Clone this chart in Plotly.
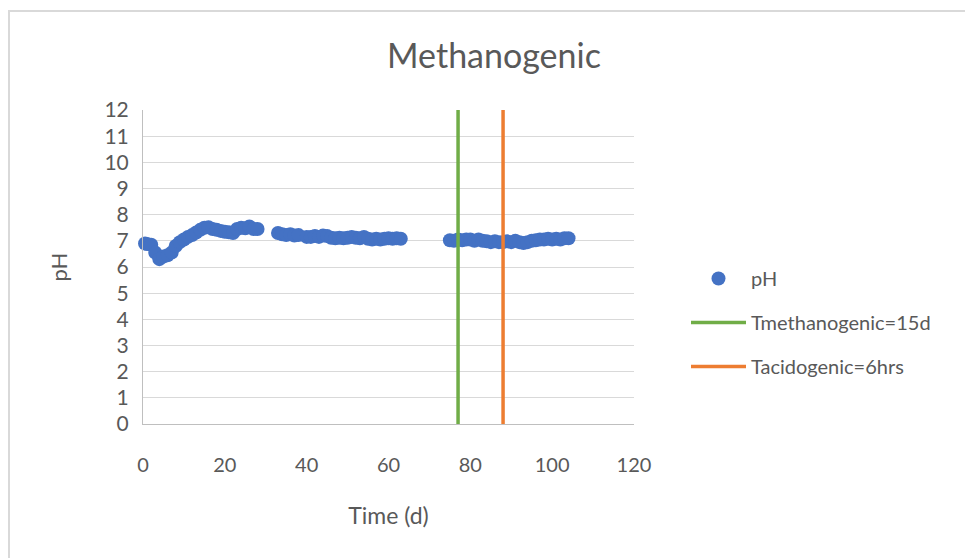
import plotly.graph_objects as go

# Time (d)
time_d = [0.5, 1, 2, 3, 4, 5, 6, 7, 8, 9, 10, 11, 12, 13, 14, 15, 16, 17, 18, 19, 20,
          21, 22, 23, 24, 25, 26, 27, 28,
          33, 34, 35, 36, 37, 38, 40, 41, 42, 43, 44, 45, 46, 47, 48, 49, 50, 51, 52,
          53, 54, 55, 56, 57, 58, 59, 60, 61, 62, 63,
          75, 76, 77, 78, 79, 80, 81, 82, 83, 84, 85, 86, 87, 88, 89, 90, 91, 92, 93,
          94, 95, 96, 97, 98, 99, 100, 101, 102, 103, 104]
ph = [6.9, 6.88, 6.85, 6.55, 6.3, 6.4, 6.45, 6.55, 6.8, 6.95, 7.05, 7.15, 7.22, 7.32, 7.42,
      7.5, 7.52, 7.45, 7.42, 7.38, 7.35, 7.33, 7.3, 7.45, 7.5, 7.48, 7.55, 7.45, 7.45,
      7.3, 7.25, 7.22, 7.25, 7.2, 7.22, 7.15, 7.15, 7.18, 7.15, 7.2, 7.18, 7.12, 7.1, 7.12,
      7.1, 7.12, 7.15, 7.12, 7.1, 7.15, 7.08, 7.05, 7.08, 7.05, 7.08, 7.1, 7.08, 7.1, 7.08,
      7.02, 7.0, 7.05, 7.02, 7.05, 7.05, 7.0, 7.05, 7.0, 6.98, 6.95, 6.98, 6.95, 6.95, 6.98,
      6.95, 7.0, 6.95, 6.92, 6.95, 7.0, 7.02, 7.05, 7.05, 7.08, 7.05, 7.08, 7.05, 7.1, 7.1]

t_methanogenic_x = [77, 77]
t_methanogenic_y = [0, 12]
t_acidogenic_x = [88, 88]
t_acidogenic_y = [0, 12]

x_ticks = [0, 20, 40, 60, 80, 100, 120]
y_ticks = list(range(0, 13))

FONT = "Lato"
TXT = "#595959"

fig = go.Figure()
fig.add_trace(go.Scatter(x=time_d, y=ph, mode="markers", name="pH",
                         marker=dict(color="#4472C4", size=14), legendgroup="a",
                         cliponaxis=False))
fig.add_trace(go.Scatter(x=t_methanogenic_x, y=t_methanogenic_y, mode="lines",
                         name="Tmethanogenic=15d", line=dict(color="#70AD47", width=3.5),
                         legendgroup="b"))
fig.add_trace(go.Scatter(x=t_acidogenic_x, y=t_acidogenic_y, mode="lines",
                         name="Tacidogenic=6hrs", line=dict(color="#ED7D31", width=3.5),
                         legendgroup="c"))

L, R, T, B = 143, 331, 110, 134
W, H = 965, 558
pw, ph_ = W - L - R, H - T - B

def px_x(p):
    return (p - L) / pw

def px_y(p):
    return (H - B - p) / ph_

fig.update_layout(
    width=W, height=H,
    margin=dict(l=L, r=R, t=T, b=B, autoexpand=False),
    paper_bgcolor="white", plot_bgcolor="white",
    font=dict(family=FONT, color=TXT, size=20),
    title=dict(text="Methanogenic", xref="container", x=494 / W, xanchor="center",
               yref="container", y=1 - 56 / H, yanchor="middle",
               font=dict(family=FONT, size=34, color=TXT)),
    xaxis=dict(range=[0, 120], tickvals=x_ticks, showgrid=False, zeroline=False,
               showline=True, linecolor="#bfbfbf", linewidth=1,
               ticks="", ticklabelstandoff=23,
               tickfont=dict(size=20, color=TXT),
               title=dict(text="Time (d)", standoff=32, font=dict(size=23, color=TXT))),
    yaxis=dict(range=[0, 12], tickvals=y_ticks, showgrid=True, gridcolor="#d9d9d9",
               gridwidth=1, zeroline=False, showline=True, linecolor="#bfbfbf",
               linewidth=1, ticks="", ticklabelstandoff=9,
               tickfont=dict(size=21, color=TXT),
               title=dict(text="pH", standoff=30, font=dict(size=22, color=TXT))),
    legend=dict(x=px_x(686), y=px_y(259), xanchor="left", yanchor="top",
                tracegroupgap=15, traceorder="grouped", itemwidth=55,
                font=dict(size=20, color=TXT), bgcolor="rgba(0,0,0,0)"),
    shapes=[dict(type="rect", xref="paper", yref="paper",
                 x0=px_x(9), x1=px_x(975), y0=px_y(570), y1=px_y(11),
                 line=dict(color="#d9d9d9", width=2), layer="below")],
)

fig.write_html("out.html")
